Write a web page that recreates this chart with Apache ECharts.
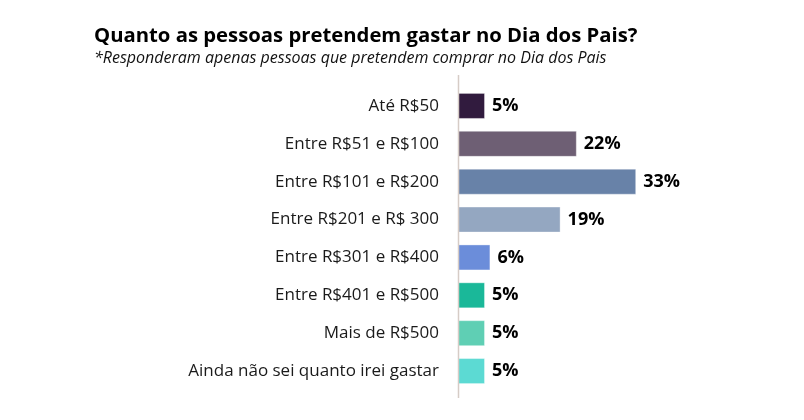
<!DOCTYPE html>
<html>
<head>
<meta charset="utf-8">
<script src="https://cdn.jsdelivr.net/npm/echarts@6/dist/echarts.min.js"></script>
<style>
  html, body { margin: 0; padding: 0; background: #fff; }
</style>
</head>
<body>
<div id="chart" style="width: 804px; height: 420px;"></div>
<script>
  // faixas de gasto (de cima para baixo)
  var categorias = ['Até R$50', 'Entre R$51 e R$100', 'Entre R$101 e R$200', 'Entre R$201 e R$ 300',
    'Entre R$301 e R$400', 'Entre R$401 e R$500', 'Mais de R$500', 'Ainda não sei quanto irei gastar'];
  var percentuais = [5, 22, 33, 19, 6, 5, 5, 5];
  var cores = ['#311b3e', '#6e5f74', '#6882a8', '#94a7c1', '#6b8dda', '#1ab899', '#5fcfb4', '#5cdad3'];

  var myChart = echarts.init(document.getElementById('chart'));

  var options = {
    backgroundColor: '#fff',
    animation: false,
    title: {
      text: 'Quanto as pessoas pretendem gastar no Dia dos Pais?',
      subtext: '*Responderam apenas pessoas que pretendem comprar no Dia dos Pais',
      left: 89,
      top: 21,
      itemGap: 4,
      textStyle: {
        fontFamily: 'Open Sans',
        fontWeight: 'bold',
        fontSize: 20.3,
        color: '#000'
      },
      subtextStyle: {
        fontFamily: 'Open Sans',
        fontStyle: 'italic',
        fontSize: 16,
        color: '#111'
      }
    },
    grid: {
      left: 458,
      width: 216,
      top: 87,
      height: 303
    },
    xAxis: {
      type: 'value',
      min: 0,
      max: 40,
      show: false
    },
    yAxis: {
      type: 'category',
      inverse: true,
      data: categorias,
      axisLine: { show: false },
      axisTick: { show: false },
      axisLabel: {
        margin: 19,
        fontFamily: 'Open Sans',
        fontSize: 17,
        color: '#1a1a1a'
      }
    },
    // linha vertical do eixo (um pouco mais longa que a grade)
    graphic: [{
      type: 'line',
      shape: { x1: 458.5, y1: 75, x2: 458.5, y2: 398 },
      style: { stroke: '#d6ccc6', lineWidth: 1.5 },
      z: 10
    }],
    series: [{
      type: 'bar',
      barWidth: 26,
      data: percentuais.map(function (v, i) {
        return { value: v, itemStyle: { color: cores[i] } };
      }),
      itemStyle: {
        borderColor: 'rgba(255,255,255,0.35)',
        borderWidth: 1
      },
      label: {
        show: true,
        position: 'right',
        distance: 7,
        formatter: '{c}%',
        fontFamily: 'Open Sans',
        fontWeight: 'bold',
        fontSize: 18,
        color: '#000'
      }
    }]
  };

  myChart.setOption(options);
</script>
</body>
</html>
